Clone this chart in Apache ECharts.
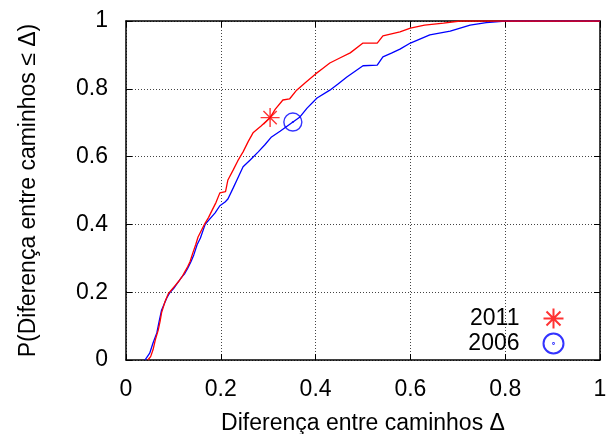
<!DOCTYPE html>
<html>
<head>
<meta charset="utf-8">
<script src="https://cdn.jsdelivr.net/npm/echarts@6/dist/echarts.min.js"></script>
<style>html,body{margin:0;padding:0;background:#fff}#c{width:608px;height:434px}</style>
</head>
<body>
<div id="c"></div>
<script>
// ---- data ----
var xTicks = [0, 0.2, 0.4, 0.6, 0.8, 1];
var yTicks = [0, 0.2, 0.4, 0.6, 0.8, 1];

var red2011 = [
  [0.046,0],[0.052,0.01],[0.057,0.03],[0.062,0.06],[0.068,0.088],[0.072,0.115],[0.075,0.139],
  [0.082,0.171],[0.089,0.195],[0.095,0.205],[0.104,0.22],[0.11,0.23],[0.118,0.245],[0.124,0.26],
  [0.13,0.275],[0.135,0.29],[0.141,0.316],[0.147,0.34],[0.152,0.363],[0.16,0.385],[0.167,0.404],
  [0.174,0.42],[0.181,0.44],[0.19,0.465],[0.198,0.493],[0.21,0.497],[0.215,0.531],[0.226,0.56],
  [0.236,0.588],[0.247,0.614],[0.258,0.645],[0.268,0.67],[0.285,0.69],[0.304,0.715],[0.315,0.74],
  [0.331,0.767],[0.345,0.77],[0.36,0.796],[0.38,0.82],[0.40,0.844],[0.415,0.86],[0.43,0.876],
  [0.45,0.89],[0.473,0.906],[0.50,0.935],[0.53,0.935],[0.542,0.956],[0.578,0.968],[0.60,0.979],
  [0.63,0.988],[0.67,0.994],[0.705,1],[1,1]
];
var blue2006 = [
  [0.04,0],[0.045,0.01],[0.05,0.02],[0.057,0.05],[0.065,0.08],[0.07,0.115],[0.075,0.147],
  [0.086,0.183],[0.093,0.2],[0.1,0.21],[0.11,0.23],[0.118,0.245],[0.124,0.255],[0.13,0.27],
  [0.137,0.29],[0.143,0.31],[0.15,0.34],[0.157,0.36],[0.167,0.40],[0.176,0.415],[0.188,0.434],
  [0.198,0.455],[0.209,0.466],[0.215,0.475],[0.226,0.507],[0.234,0.531],[0.247,0.57],[0.262,0.59],
  [0.279,0.614],[0.293,0.635],[0.307,0.658],[0.325,0.675],[0.35,0.70],[0.367,0.717],[0.382,0.743],
  [0.403,0.773],[0.43,0.796],[0.448,0.815],[0.466,0.835],[0.50,0.868],[0.53,0.87],[0.542,0.894],
  [0.56,0.905],[0.578,0.917],[0.60,0.935],[0.641,0.959],[0.684,0.97],[0.726,0.988],[0.76,0.995],
  [0.80,1],[1,1]
];
var marker2011 = [[0.304, 0.715]];
var marker2006 = [[0.352, 0.702]];
var seriesNames = ['2011', '2006'];
var xTitle = 'Diferença entre caminhos Δ';
var yTitle = 'P(Diferença entre caminhos ≤ Δ)';

// ---- chart ----
var FONT = 'Liberation Sans, Arial, sans-serif';
var FS = 23;
var starPath = 'path://M10,0L10,20M0,10L20,10M3,3L17,17M3,17L17,3';
var circPath = 'path://M20,10A10,10 0 1 1 0,10A10,10 0 1 1 20,10ZM10.4,10A0.4,0.4 0 1 1 9.6,10A0.4,0.4 0 1 1 10.4,10Z';

var chart = echarts.init(document.getElementById('c'), null, {renderer: 'canvas'});
var axisCommon = {
  type: 'value', min: 0, max: 1, interval: 0.2,
  axisLine: {show: true, onZero: false, lineStyle: {color: '#000', width: 1.5}},
  axisTick: {show: true, inside: true, length: 6, lineStyle: {color: '#000', width: 1}}
};
function fmt(v){ return String(Math.round(v*10)/10); }
chart.setOption({
  animation: false,
  backgroundColor: '#fff',
  textStyle: {fontFamily: FONT},
  grid: {left: 126, right: 8, top: 21, bottom: 74, containLabel: false, outerBoundsMode: 'none'},
  legend: {
    orient: 'vertical', right: 42, top: 306, padding: 0,
    align: 'right', itemWidth: 20, itemHeight: 20, itemGap: 0,
    textStyle: {fontFamily: FONT, fontSize: FS, color: '#000', padding: [0, 19, 0, 0]},
    data: seriesNames
  },
  xAxis: [
    Object.assign({}, axisCommon, {
      position: 'bottom',
      name: xTitle, nameLocation: 'middle', nameGap: 52,
      nameTextStyle: {fontFamily: FONT, fontSize: FS, color: '#000'},
      axisLabel: {show: true, fontFamily: FONT, fontSize: FS, color: '#000', margin: 18, formatter: fmt},
      splitLine: {show: true, lineStyle: {color: '#444', width: 1, type: [1, 2]}}
    }),
    Object.assign({}, axisCommon, {
      position: 'top', axisLabel: {show: false}, splitLine: {show: false}
    })
  ],
  yAxis: [
    Object.assign({}, axisCommon, {
      position: 'left',
      name: yTitle, nameLocation: 'middle', nameGap: 86,
      nameTextStyle: {fontFamily: FONT, fontSize: FS, color: '#000'},
      axisLabel: {show: true, fontFamily: FONT, fontSize: FS, color: '#000', margin: 18, formatter: fmt},
      splitLine: {show: true, lineStyle: {color: '#444', width: 1, type: [1, 2]}}
    }),
    Object.assign({}, axisCommon, {
      position: 'right', axisLabel: {show: false}, splitLine: {show: false}
    })
  ],
  series: [
    {
      name: 'line2006', type: 'line', data: blue2006, showSymbol: false, symbol: 'none',
      lineStyle: {color: '#0000ff', width: 1.3}, itemStyle: {color: '#0000ff'}, z: 2
    },
    {
      name: 'line2011', type: 'line', data: red2011, showSymbol: false, symbol: 'none',
      lineStyle: {color: '#ff0000', width: 1.3}, itemStyle: {color: '#ff0000'}, z: 3
    },
    {
      name: '2011', type: 'scatter', data: marker2011, symbol: starPath, symbolSize: 19,
      itemStyle: {color: 'none', borderColor: '#ff0000', borderWidth: 1.4}, z: 4
    },
    {
      name: '2006', type: 'scatter', data: marker2006, symbol: circPath, symbolSize: 18,
      itemStyle: {color: 'none', borderColor: '#0000ff', borderWidth: 1.4}, z: 4
    }
  ]
});
</script>
</body>
</html>
